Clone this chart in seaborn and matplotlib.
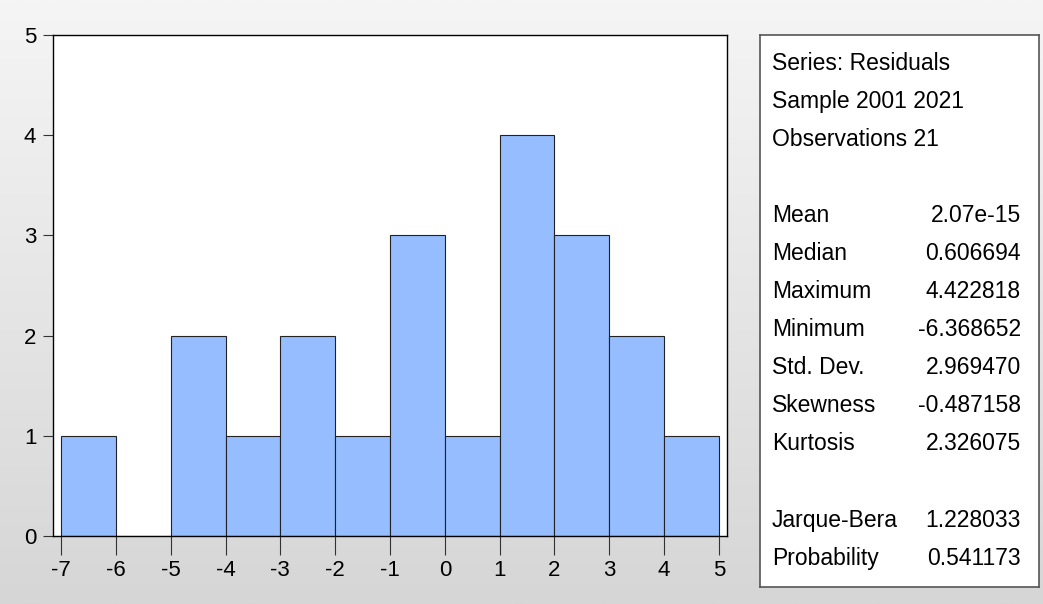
import numpy as np
import matplotlib
matplotlib.use("Agg")
import matplotlib.pyplot as plt
import seaborn as sns

# histogram data (residuals, 2001-2021)
bin_edges = [-7, -6, -5, -4, -3, -2, -1, 0, 1, 2, 3, 4, 5]
counts = [1, 0, 2, 1, 2, 1, 3, 1, 4, 3, 2, 1]
y_ticks = [0, 1, 2, 3, 4, 5]

# stats panel
stat_labels = ["Series: Residuals", "Sample 2001 2021", "Observations 21", "",
               "Mean", "Median", "Maximum", "Minimum", "Std. Dev.", "Skewness",
               "Kurtosis", "", "Jarque-Bera", "Probability"]
stat_values = ["", "", "", "",
               "2.07e-15", "0.606694", "4.422818", "-6.368652", "2.969470",
               "-0.487158", "2.326075", "", "1.228033", "0.541173"]

sns.set_style("white")
plt.rcParams['font.family'] = ['Liberation Sans', 'DejaVu Sans']

W, H = 1043, 604
fig = plt.figure(figsize=(W / 100, H / 100), dpi=100)

# grey gradient background
bg = fig.add_axes([0, 0, 1, 1], zorder=-10)
grad = np.linspace(0, 1, 256).reshape(-1, 1)
bg.imshow(grad, aspect='auto', cmap=matplotlib.colors.LinearSegmentedColormap.from_list(
    "g", ["#f5f5f5", "#d6d6d6"]), extent=[0, 1, 0, 1])
bg.set_axis_off()

def px_rect(x0, y0, x1, y1):
    return [x0 / W, 1 - y1 / H, (x1 - x0) / W, (y1 - y0) / H]

ax = fig.add_axes(px_rect(53, 35, 727, 536))
centers = [(a + b) / 2 for a, b in zip(bin_edges[:-1], bin_edges[1:])]
sns.histplot(x=centers, weights=counts, bins=bin_edges, ax=ax,
             color="#96bdff", alpha=1.0, edgecolor="#222222", linewidth=0.8)
ax.set_facecolor("white")
ax.set_xlim(-7.146, 5.146)
ax.set_ylim(0, 5)
ax.set_xticks(bin_edges)
ax.set_xticklabels([str(v) for v in bin_edges])
ax.set_yticks(y_ticks)
ax.set_ylabel("")
ax.set_xlabel("")
ax.tick_params(axis='x', direction='out', length=14, width=0.8, color="#333333",
               labelsize=16, labelcolor="black", pad=3, bottom=True)
ax.tick_params(axis='y', direction='out', length=7, width=0.8, color="#333333",
               labelsize=16, labelcolor="black", pad=5, left=True)
for s in ax.spines.values():
    s.set_color("black")
    s.set_linewidth(1.0)

# stats box
sax = fig.add_axes(px_rect(760, 35, 1039, 587))
sax.set_facecolor("white")
sax.set_xticks([])
sax.set_yticks([])
for s in sax.spines.values():
    s.set_color("#555555")
    s.set_linewidth(1.2)

for i, (lab, val) in enumerate(zip(stat_labels, stat_values)):
    y = 63 + i * 38.1
    fig.text(772 / W, 1 - y / H, lab, fontsize=16.5, va='center', ha='left', color="black")
    if val:
        fig.text(1021 / W, 1 - y / H, val, fontsize=16.5, va='center', ha='right', color="black")

fig.savefig("out.png", dpi=100)
